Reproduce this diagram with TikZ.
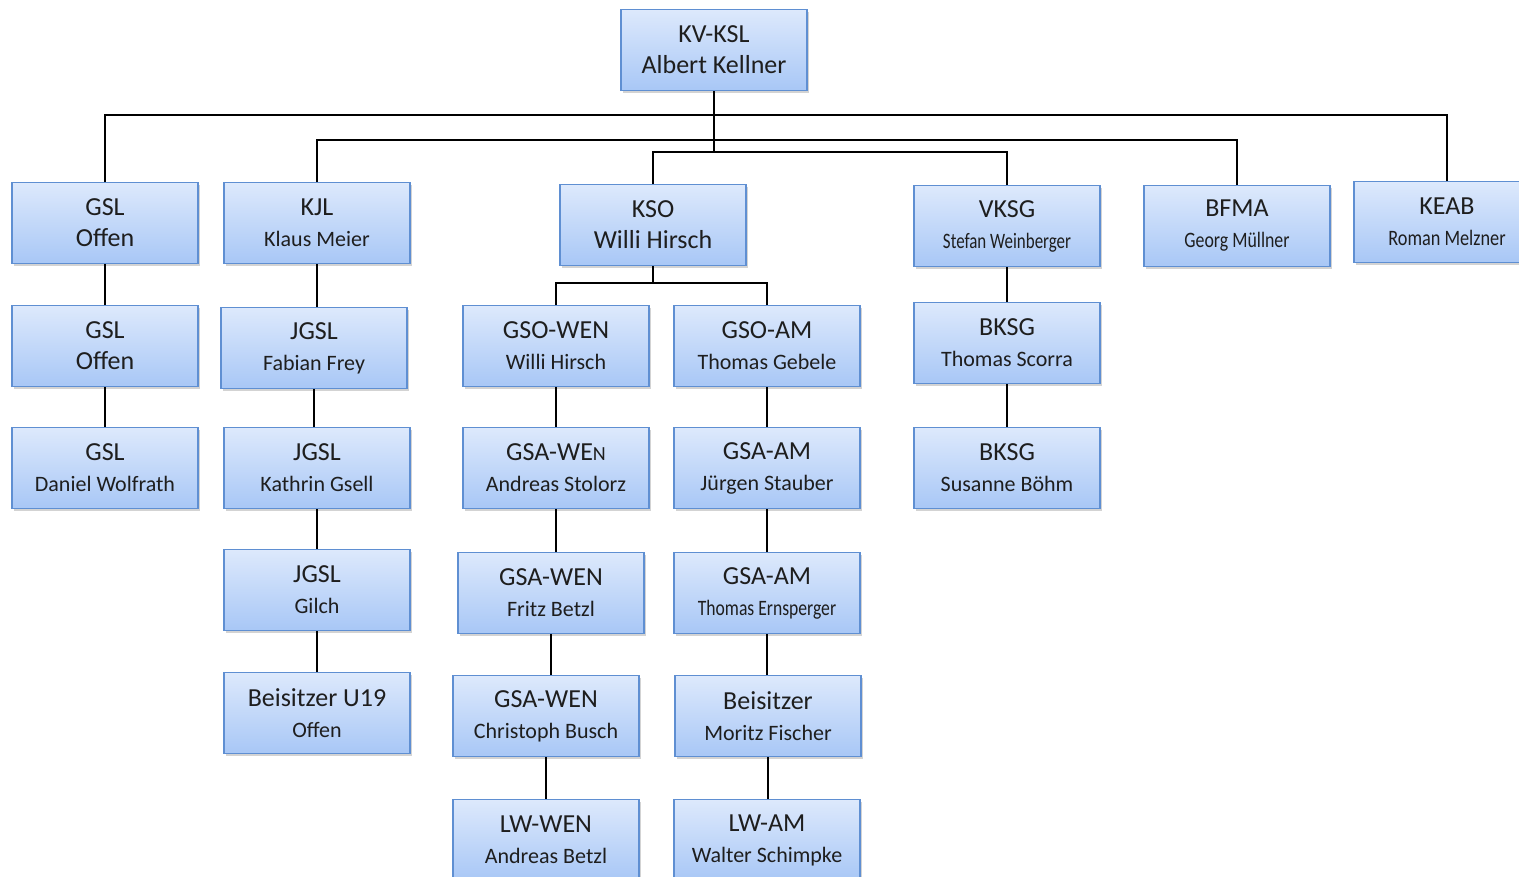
\documentclass[tikz,border=0pt]{standalone}
\usepackage{fontspec}
\setmainfont{Carlito}
\usetikzlibrary{shadows}

\definecolor{boxtop}{HTML}{DDE9FC}
\definecolor{boxbot}{HTML}{A8C7F6}
\definecolor{boxline}{HTML}{5F8FD2}
\definecolor{textgray}{HTML}{1E1E1E}

\newcommand\nm[1]{{\fontsize{11}{14}\selectfont #1}}
\newcommand\nmnarrow[2]{{\fontsize{11}{14}\selectfont\addfontfeature{FakeStretch=#1}#2}}

\begin{document}
\begin{tikzpicture}[x=0.5pt, y=-0.5pt,
	orgbox/.style={draw=boxline, line width=0.6pt, top color=boxtop, bottom color=boxbot,
		minimum width=93pt, minimum height=40.5pt, inner sep=0pt, align=center,
		font=\fontsize{13}{15.5}\selectfont, text=textgray,
		drop shadow={shadow xshift=1pt, shadow yshift=-1.2pt, opacity=0.35}},
	link/.style={line width=0.6pt, black}]

\path [use as bounding box] (0,0) rectangle (1519,877);

% TOP
\node [orgbox] (kv) at (714,50) {KV-KSL\\Albert Kellner};

% FIRST ROW
\node [orgbox] (gsl1) at (105,223) {GSL\\Offen};
\node [orgbox] (kjl) at (317,223) {KJL\\\nm{Klaus Meier}};
\node [orgbox] (kso) at (653,225) {KSO\\Willi Hirsch};
\node [orgbox] (vksg) at (1007,226) {VKSG\\\nmnarrow{0.77}{Stefan Weinberger}};
\node [orgbox] (bfma) at (1237,226) {BFMA\\\nmnarrow{0.81}{Georg Müllner}};
\node [orgbox] (keab) at (1447,222) {KEAB\\\nmnarrow{0.83}{Roman Melzner}};

% SECOND ROW
\node [orgbox] (gsl2) at (105,346) {GSL\\Offen};
\node [orgbox] (jgsl1) at (314,348) {JGSL\\\nm{Fabian Frey}};
\node [orgbox] (gsowen) at (556,346) {GSO-WEN\\\nm{Willi Hirsch}};
\node [orgbox] (gsoam) at (767,346) {GSO-AM\\\nm{Thomas Gebele}};
\node [orgbox] (bksg1) at (1007,343) {BKSG\\\nm{Thomas Scorra}};

% THIRD ROW
\node [orgbox] (gsl3) at (105,468) {GSL\\\nm{Daniel Wolfrath}};
\node [orgbox] (jgsl2) at (317,468) {JGSL\\\nm{Kathrin Gsell}};
\node [orgbox] (gsawen1) at (556,468) {GSA-WE{\fontsize{10}{10}\selectfont N}\\\nm{Andreas Stolorz}};
\node [orgbox] (gsaam1) at (767,468) {GSA-AM\\\nm{Jürgen Stauber}};
\node [orgbox] (bksg2) at (1007,468) {BKSG\\\nm{Susanne Böhm}};

% FOURTH ROW
\node [orgbox] (jgsl3) at (317,590) {JGSL\\\nm{Gilch}};
\node [orgbox] (gsawen2) at (551,593) {GSA-WEN\\\nm{Fritz Betzl}};
\node [orgbox] (gsaam2) at (767,593) {GSA-AM\\\nmnarrow{0.8}{Thomas Ernsperger}};

% FIFTH ROW
\node [orgbox] (beis1) at (317,713) {Beisitzer U19\\\nm{Offen}};
\node [orgbox] (gsawen3) at (546,716) {GSA-WEN\\\nm{Christoph Busch}};
\node [orgbox] (beis2) at (768,716) {Beisitzer\\\nm{Moritz Fischer}};

% SIXTH ROW
\node [orgbox] (lwwen) at (546,840) {LW-WEN\\\nm{Andreas Betzl}};
\node [orgbox] (lwam) at (767,840) {LW-AM\\\nm{Walter Schimpke}};

% BUSES
\coordinate (bus1) at (714,115);
\coordinate (bus2) at (714,140);
\coordinate (bus3) at (714,152);
\coordinate (ksobus) at (653,283);

\draw [link] (kv.south) -- (bus3);
\draw [link] (gsl1.north) |- (bus1) -| (keab.north);
\draw [link] (kjl.north) |- (bus2) -| (bfma.north);
\draw [link] (kso.north) |- (bus3) -| (vksg.north);
\draw [link] (kso.south) -- (ksobus);
\draw [link] (gsowen.north) |- (ksobus) -| (gsoam.north);

% CHAINS
\foreach \a/\b in {gsl1/gsl2, gsl2/gsl3, kjl/jgsl1, jgsl1/jgsl2, jgsl2/jgsl3, jgsl3/beis1,
	gsowen/gsawen1, gsawen1/gsawen2, gsawen2/gsawen3, gsawen3/lwwen,
	gsoam/gsaam1, gsaam1/gsaam2, gsaam2/beis2, beis2/lwam, vksg/bksg1, bksg1/bksg2}
	\draw [link] (\a.south) -- (\a.south |- \b.north);

\end{tikzpicture}
\end{document}
